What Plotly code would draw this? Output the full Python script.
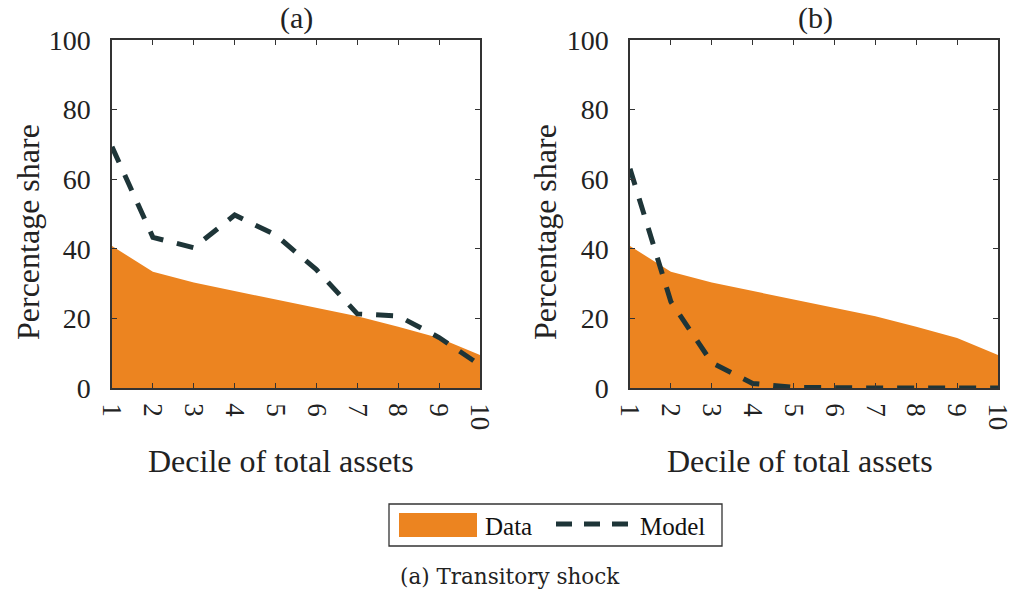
import plotly.graph_objects as go

deciles = [1, 2, 3, 4, 5, 6, 7, 8, 9, 10]
data_share = [40.8, 33.4, 30.3, 27.9, 25.3, 23.0, 20.6, 17.6, 14.4, 9.5]
model_a = [69.3, 43.3, 40.3, 49.7, 44.0, 34.0, 21.3, 20.7, 14.5, 6.6]
model_b = [63.0, 24.8, 7.3, 1.3, 0.2, 0.0, 0.0, 0.0, 0.0, 0.0]
panel_titles = ["(a)", "(b)"]
y_title = "Percentage share"
x_title = "Decile of total assets"
legend_names = ["Data", "Model"]
caption = "(a) Transitory shock"

ORANGE = "#EC8420"
DARK = "#1E3538"
AXC = "#333333"
TXT = "#222222"
FONT = "Liberation Serif"
DASH = "17px,14px"

fig = go.Figure()

for i, (model, xa, ya) in enumerate([(model_a, "x", "y"), (model_b, "x2", "y2")]):
    fig.add_trace(go.Scatter(
        x=deciles, y=data_share, xaxis=xa, yaxis=ya,
        mode="lines", fill="tozeroy", fillcolor=ORANGE,
        line=dict(width=0, color=ORANGE), name=legend_names[0],
        showlegend=False))
    fig.add_trace(go.Scatter(
        x=deciles, y=model, xaxis=xa, yaxis=ya,
        mode="lines", line=dict(color=DARK, width=5, dash=DASH),
        name=legend_names[1], showlegend=False))

W, H = 1014, 594
def px_x(p): return p / W
def px_y(p): return 1 - p / H

common_x = dict(range=[1, 10], tickvals=deciles, ticktext=[str(d) for d in deciles],
                tickangle=90, ticks="inside", ticklen=5, tickcolor=AXC,
                showline=True, linecolor=AXC, linewidth=1.5, mirror="ticks",
                showgrid=False, zeroline=False, automargin=False,
                ticklabelstandoff=8, ticklabeloverflow="allow",
                tickfont=dict(family=FONT, size=27, color=TXT))
common_y = dict(range=[0, 100], tickvals=[0, 20, 40, 60, 80, 100],
                ticks="inside", ticklen=5, tickcolor=AXC,
                showline=True, linecolor=AXC, linewidth=1.5, mirror="ticks",
                showgrid=False, zeroline=False, automargin=False,
                ticklabelstandoff=14, ticklabeloverflow="allow",
                tickfont=dict(family=FONT, size=28, color=TXT))

ytop, ybot = px_y(40), px_y(388)
fig.update_layout(
    width=W, height=H,
    margin=dict(l=0, r=0, t=0, b=0),
    paper_bgcolor="white", plot_bgcolor="white",
    xaxis=dict(domain=[px_x(112), px_x(480)], anchor="y", **common_x),
    yaxis=dict(domain=[ybot, ytop], anchor="x", **common_y),
    xaxis2=dict(domain=[px_x(630), px_x(998)], anchor="y2", **common_x),
    yaxis2=dict(domain=[ybot, ytop], anchor="x2", **common_y),
    showlegend=False,
)

# panel titles and axis titles
for t, cx, ytx, xtx in zip(panel_titles, [296, 815], [28, 545], [281, 800]):
    fig.add_annotation(text=t, x=px_x(cx), y=px_y(18), xref="paper", yref="paper",
                       showarrow=False, font=dict(family=FONT, size=30, color=TXT),
                       xanchor="center", yanchor="middle")
    fig.add_annotation(text=y_title, x=px_x(ytx), y=px_y(232), xref="paper", yref="paper",
                       showarrow=False, textangle=-90, font=dict(family=FONT, size=32, color=TXT),
                       xanchor="center", yanchor="middle")
    fig.add_annotation(text=x_title, x=px_x(xtx), y=px_y(461), xref="paper", yref="paper",
                       showarrow=False, font=dict(family=FONT, size=32, color=TXT),
                       xanchor="center", yanchor="middle")

# legend box (drawn manually to match the large filled patch)
fig.add_shape(type="rect", xref="paper", yref="paper",
              x0=px_x(389), x1=px_x(722), y0=px_y(546), y1=px_y(504),
              line=dict(color="#333333", width=1.3), fillcolor="white")
fig.add_shape(type="rect", xref="paper", yref="paper",
              x0=px_x(399), x1=px_x(477), y0=px_y(537), y1=px_y(513),
              line=dict(width=0), fillcolor=ORANGE)
fig.add_annotation(text=legend_names[0], x=px_x(483), y=px_y(526), xref="paper", yref="paper",
                   showarrow=False, font=dict(family=FONT, size=25, color="#111111"),
                   xanchor="left", yanchor="middle")
fig.add_shape(type="line", xref="paper", yref="paper",
              x0=px_x(556), x1=px_x(636), y0=px_y(524), y1=px_y(524),
              line=dict(color=DARK, width=5, dash="16px,12px"))
fig.add_annotation(text=legend_names[1], x=px_x(638), y=px_y(526), xref="paper", yref="paper",
                   showarrow=False, font=dict(family=FONT, size=25, color="#111111"),
                   xanchor="left", yanchor="middle")

fig.add_annotation(text=caption, x=px_x(510), y=px_y(576), xref="paper", yref="paper",
                   showarrow=False, font=dict(family="DejaVu Serif", size=21.5, color=TXT),
                   xanchor="center", yanchor="middle")

fig.write_html("out.html", config={"displayModeBar": False},
               post_script="document.body.style.margin='0';document.body.style.overflow='hidden';")
